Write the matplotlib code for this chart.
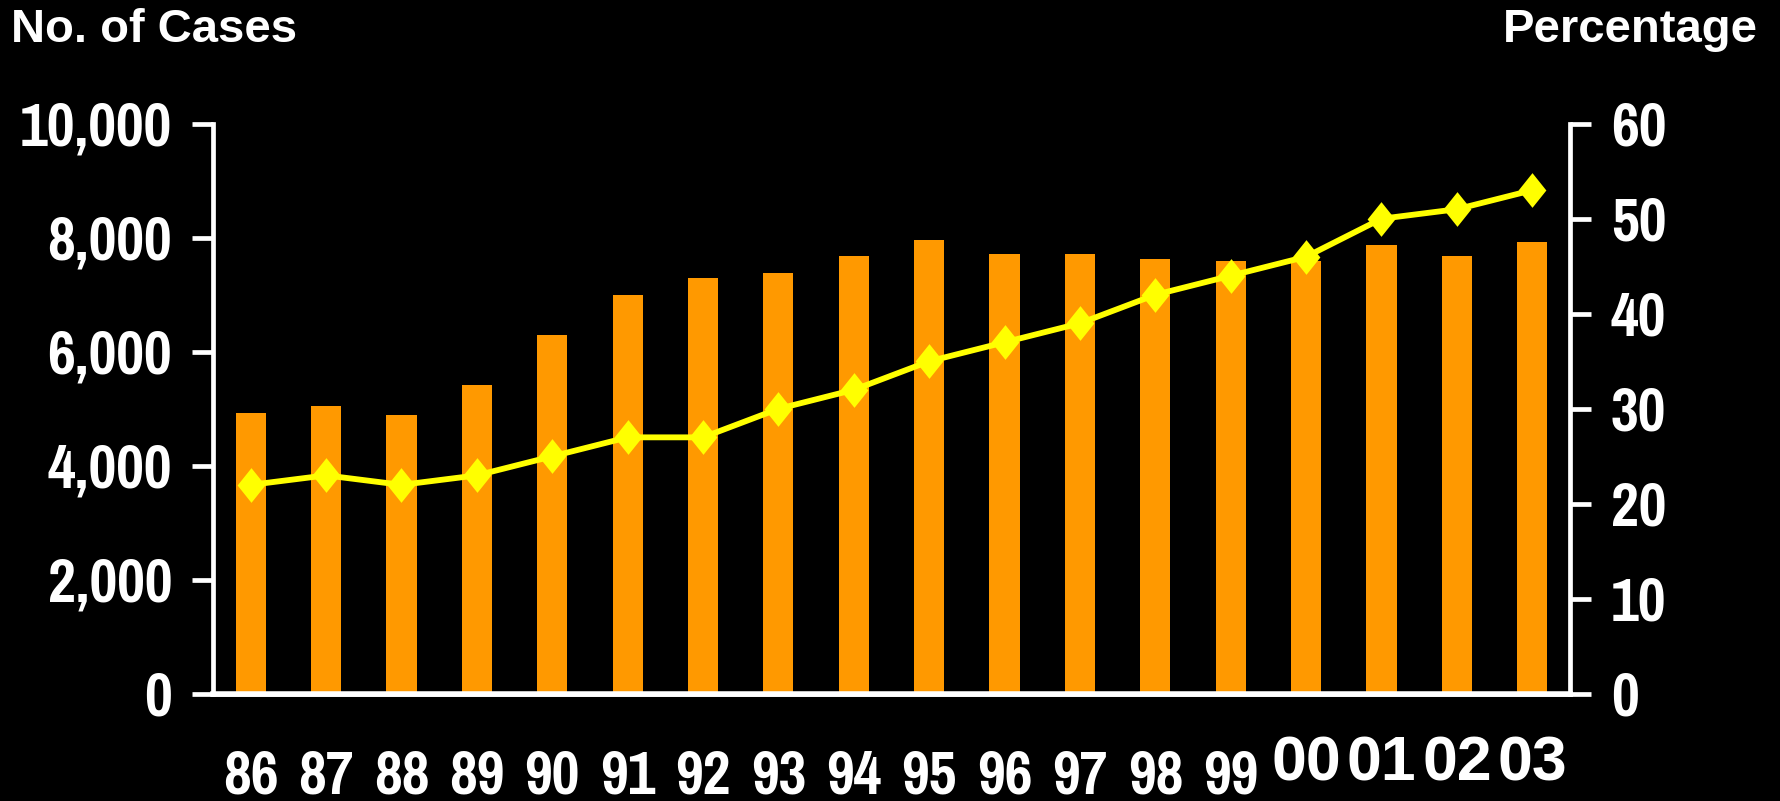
import matplotlib
matplotlib.use('Agg')
import matplotlib.pyplot as plt
from matplotlib.path import Path

YEARS = ['86', '87', '88', '89', '90', '91', '92', '93', '94', '95',
         '96', '97', '98', '99', '00', '01', '02', '03']
CASES = [4930, 5050, 4890, 5420, 6300, 7000, 7290, 7380, 7680, 7960,
         7710, 7710, 7620, 7590, 7590, 7870, 7680, 7920]
PERCENT = [22, 23, 22, 23, 25, 27, 27, 30, 32, 35,
           37, 39, 42, 44, 46, 50, 51, 53]
LEFT_TICKS = [0, 2000, 4000, 6000, 8000, 10000]
RIGHT_TICKS = [0, 10, 20, 30, 40, 50, 60]

NARROW = ['Pragati Narrow', 'PT Sans Narrow', 'Liberation Sans']
WIDE = ['Liberation Sans', 'DejaVu Sans']
BAR_COLOR = '#FF9900'
LINE_COLOR = '#FFFF00'


def style_axis(ax, side):
    """Thick white spine only on the given side (plus the baseline)."""
    ax.set_facecolor('none')
    for name, spine in ax.spines.items():
        spine.set_visible(name in (side, 'bottom'))
        spine.set_color('white')
        spine.set_linewidth(3.4)
    ax.tick_params(axis='y', direction='out', length=15, width=3.4,
                   color='white', labelcolor='white', pad=14.5,
                   labelsize=47.5)
    for lbl in ax.get_yticklabels():
        lbl.set_fontfamily(NARROW)
        lbl.set_fontweight('bold')


def main():
    fig = plt.figure(figsize=(17.81, 8.01), dpi=100, facecolor='black')
    ax = fig.add_axes([0.1196, 0.1336, 0.7619, 0.712])

    x = list(range(len(YEARS)))
    ax.bar(x, CASES, width=0.4, color=BAR_COLOR, zorder=2)
    ax.set_xlim(-0.5, len(YEARS) - 0.5)
    ax.set_ylim(0, 10000)
    ax.set_yticks(LEFT_TICKS, [f'{v:,}' for v in LEFT_TICKS])
    ax.set_xticks([])
    style_axis(ax, 'left')
    ax.set_facecolor('black')

    ax2 = ax.twinx()
    diamond = Path([(0, 1), (0.8, 0), (0, -1), (-0.8, 0), (0, 1)],
                   [Path.MOVETO, Path.LINETO, Path.LINETO, Path.LINETO, Path.CLOSEPOLY])
    ax2.plot(x, PERCENT, color=LINE_COLOR, linewidth=4.2, marker=diamond,
             markersize=25, markeredgewidth=0, markerfacecolor=LINE_COLOR)
    ax2.set_ylim(0, 60)
    ax2.set_yticks(RIGHT_TICKS, [str(v) for v in RIGHT_TICKS])
    style_axis(ax2, 'right')
    ax.spines['bottom'].set_linewidth(4)

    # year labels: the 2000s are set in a wider face and sit a bit higher
    for i, yr in enumerate(YEARS):
        if yr.startswith('0'):
            ax.text(i, -0.151, yr, transform=ax.get_xaxis_transform(),
                    ha='center', va='baseline', color='white', fontsize=45,
                    fontweight='bold', family=WIDE)
        else:
            ax.text(i, -0.175, yr, transform=ax.get_xaxis_transform(),
                    ha='center', va='baseline', color='white', fontsize=47.5,
                    fontweight='bold', family=NARROW)

    fig.text(11 / 1781, 1 - 8 / 801, 'No. of Cases', ha='left', va='top',
             color='white', fontsize=34, fontweight='bold', family=WIDE)
    fig.text(1758 / 1781, 1 - 8 / 801, 'Percentage', ha='right', va='top',
             color='white', fontsize=34, fontweight='bold', family=WIDE)

    fig.savefig('out.png', dpi=100, facecolor='black')
    plt.close(fig)


if __name__ == '__main__':
    main()
